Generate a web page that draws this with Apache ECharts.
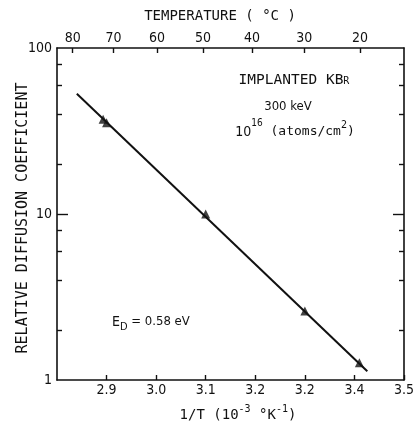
<!DOCTYPE html>
<html>
<head>
<meta charset="utf-8">
<script src="https://cdn.jsdelivr.net/npm/echarts@6/dist/echarts.min.js"></script>
<style>
  html, body { margin: 0; padding: 0; background: #fff; }
  #chart { width: 417px; height: 425px; }
</style>
</head>
<body>
<div id="chart"></div>
<script>
// Bottom axis: 1/T in units of 10^-3 K^-1 (labels as printed on the original plate)
const xTickValues = [2.9, 3.0, 3.1, 3.2, 3.3, 3.4, 3.5];
const xTickLabels = ['2.9', '3.0', '3.1', '3.2', '3.2', '3.4', '3.5'];
// Top axis: temperature in degrees Celsius
const tempTicks = [80, 70, 60, 50, 40, 30, 20];
// Left/right log axis
const yLabelValues = [1, 10, 100];
const yMinorTicks = [2, 4, 6, 8, 20, 40, 60, 80];
const yMajorTicks = [10];
// Measured points (triangles)
const invT = [2.893, 2.9, 3.1, 3.3, 3.41];
const diffusion = [37.2, 35.5, 10, 2.6, 1.27];
// Arrhenius fit line, E_D = 0.58 eV
const fitInvT = [2.84, 3.426];
const fitDiffusion = [53, 1.13];

const INK = '#111';
const NUM_FONT = 'DejaVu Sans Condensed';
const TXT_FONT = 'DejaVu Sans Mono';

const cToInvT = c => 1000 / (c + 273.15);
const tempPositions = tempTicks.map(cToInvT);

const chart = echarts.init(document.getElementById('chart'), null, { renderer: 'canvas' });

// lay out a run of text pieces (with super/subscripts) centred on cx
const measureCtx = document.createElement('canvas').getContext('2d');
function textRun(cx, cy, parts, align) {
  const widths = parts.map(p => {
    measureCtx.font = `${p.weight || 'normal'} ${p.size}px "${p.family || TXT_FONT}"`;
    return measureCtx.measureText(p.t).width;
  });
  const total = widths.reduce((a, b) => a + b, 0);
  let x = align === 'left' ? cx : cx - total / 2;
  return parts.map((p, i) => {
    const el = {
      type: 'text',
      x: x, y: cy + (p.dy || 0),
      style: {
        text: p.t,
        fontSize: p.size,
        fontFamily: p.family || TXT_FONT,
        fontWeight: p.weight || 'normal',
        fill: INK,
        align: 'left',
        verticalAlign: 'middle'
      }
    };
    x += widths[i];
    return el;
  });
}

const axisLine = { show: true, lineStyle: { color: INK, width: 1.6 } };
const tickFont = { fontSize: 14, fontFamily: NUM_FONT, color: INK };

const graphics = [].concat(
  [{
    type: 'text', x: 220, y: 16,
    style: { text: 'TEMPERATURE ( °C )', fontSize: 14, fontFamily: TXT_FONT, fill: INK, align: 'center', verticalAlign: 'middle' }
  }, {
    type: 'text', x: 23, y: 218, rotation: Math.PI / 2,
    style: { text: 'RELATIVE DIFFUSION COEFFICIENT', fontSize: 15, fontFamily: TXT_FONT, fill: INK, align: 'center', verticalAlign: 'middle' }
  }],
  textRun(294, 80, [
    { t: 'IMPLANTED KB', size: 14.5 },
    { t: 'R', size: 10, dy: 1 }
  ]),
  [{
    type: 'text', x: 288, y: 107,
    style: { text: '300 keV', fontSize: 13, fontFamily: NUM_FONT, fill: INK, align: 'center', verticalAlign: 'middle' }
  }],
  textRun(295, 132, [
    { t: '10', size: 14, family: NUM_FONT },
    { t: '16', size: 10, family: NUM_FONT, dy: -9 },
    { t: ' (atoms/cm', size: 13 },
    { t: '2', size: 10, dy: -7 },
    { t: ')', size: 13 }
  ]),
  textRun(112, 322, [
    { t: 'E', size: 14, family: NUM_FONT },
    { t: 'D', size: 11, family: NUM_FONT, dy: 5 },
    { t: ' = 0.58 eV', size: 13, family: NUM_FONT }
  ], 'left'),
  textRun(238, 415, [
    { t: '1/T (10', size: 14 },
    { t: '-3', size: 10, dy: -6 },
    { t: ' °K', size: 14 },
    { t: '-1', size: 10, dy: -6 },
    { t: ')', size: 14 }
  ])
);

function logAxis(position, tickValues, tickLen, withLabels) {
  return {
    type: 'log', logBase: 10, min: 1, max: 100, position: position,
    axisLine: withLabels !== null ? axisLine : { show: false },
    splitLine: { show: false },
    minorTick: { show: false },
    axisTick: { show: true, inside: true, length: tickLen, customValues: tickValues, lineStyle: { color: INK, width: 1.4 } },
    axisLabel: withLabels ? Object.assign({ show: true, customValues: yLabelValues, margin: 5 }, tickFont) : { show: false }
  };
}

chart.setOption({
  animation: false,
  backgroundColor: '#fff',
  grid: { left: 57, right: 11, top: 48, bottom: 45, containLabel: false },
  xAxis: [{
    type: 'value', position: 'bottom', min: 2.8, max: 3.5, interval: 0.1,
    axisLine: axisLine,
    splitLine: { show: false },
    axisTick: { show: true, inside: true, length: 5, customValues: xTickValues, lineStyle: { color: INK, width: 1.4 } },
    axisLabel: Object.assign({
      show: true, customValues: xTickValues, margin: 3,
      formatter: v => {
        const i = xTickValues.findIndex(t => Math.abs(t - v) < 1e-6);
        return i >= 0 ? xTickLabels[i] : '';
      }
    }, tickFont)
  }, {
    type: 'value', position: 'top', min: 2.8, max: 3.5,
    axisLine: axisLine,
    splitLine: { show: false },
    axisTick: { show: true, inside: true, length: 5, customValues: tempPositions, lineStyle: { color: INK, width: 1.4 } },
    axisLabel: Object.assign({
      show: true, customValues: tempPositions, margin: 3,
      formatter: v => {
        const i = tempPositions.findIndex(t => Math.abs(t - v) < 1e-6);
        return i >= 0 ? String(tempTicks[i]) : '';
      }
    }, tickFont)
  }],
  yAxis: [
    logAxis('left', yMinorTicks, 5, true),
    logAxis('left', yMajorTicks, 11, null),
    logAxis('right', yMinorTicks, 5, false),
    logAxis('right', yMajorTicks, 11, null)
  ],
  series: [{
    type: 'line',
    xAxisIndex: 0, yAxisIndex: 0,
    data: fitInvT.map((x, i) => [x, fitDiffusion[i]]),
    symbol: 'none',
    lineStyle: { color: INK, width: 2 },
    z: 2
  }, {
    type: 'scatter',
    xAxisIndex: 0, yAxisIndex: 0,
    data: invT.map((x, i) => [x, diffusion[i]]),
    symbol: 'triangle',
    symbolSize: 9,
    itemStyle: { color: INK },
    z: 3
  }],
  graphic: graphics
});
</script>
</body>
</html>
